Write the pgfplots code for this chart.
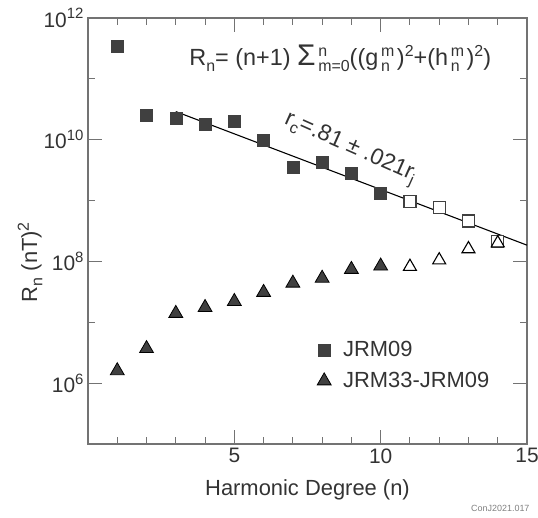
\documentclass[border=0pt]{standalone}
\usepackage{fontspec}
\setmainfont{Liberation Sans}
\usepackage{pgfplots}
\pgfplotsset{compat=1.18}
\definecolor{axgray}{HTML}{737373}
\definecolor{mk}{HTML}{404040}
\definecolor{txt}{HTML}{333333}
\newcommand{\sps}[1]{\raisebox{0.72ex}{\fontsize{16}{16}\selectfont #1}}
\newcommand{\sbs}[1]{\raisebox{-0.45ex}{\fontsize{16}{16}\selectfont #1}}
\newcommand{\tsp}[1]{\raisebox{0.75ex}{\fontsize{15}{15}\selectfont #1}}
\begin{document}
\begin{tikzpicture}
\useasboundingbox (-88bp,-74bp) rectangle (450bp,444bp);
\begin{axis}[
  at={(0,0)}, anchor=south west,
  scale only axis, width=439bp, height=426bp,
  xmin=0, xmax=15, ymode=log, log basis y=10,
  ymin=1e5, ymax=1e12,
  xtick={5,10,15}, minor xtick={1,2,3,4,6,7,8,9,11,12,13,14},
  ytick={1e6,1e8,1e10,1e12}, minor ytick={1e7,1e9,1e11},
  major tick length=14bp, minor tick length=7bp,
  tick style={axgray, line width=1pt},
  axis line style={axgray, line width=1.3pt},
  /pgf/number format/assume math mode=true,
  xticklabel style={font=\fontsize{21}{24}\selectfont, text=txt, yshift=-1bp},
  yticklabel={10\tsp{\pgfmathparse{int(round(\tick))}\pgfmathresult}},
  yticklabel style={font=\fontsize{21}{24}\selectfont, text=txt, xshift=-1bp},
  xlabel={Harmonic Degree (n)},
  xlabel style={font=\fontsize{22}{24}\selectfont, text=txt, at={(rel axis cs:0.5,0)}, anchor=center, yshift=-46bp},
  ylabel={R\sbs{n} (nT)\sps{2}},
  ylabel style={font=\fontsize{22}{24}\selectfont, text=txt, at={(rel axis cs:0,0.427)}, anchor=center, yshift=58bp},
  clip=false,
  legend style={draw=none, fill=none, at={(rel axis cs:0.515,0.25)}, anchor=north west,
    font=\fontsize{22}{24}\selectfont, text=txt, row sep=10bp,
    legend cell align=left},
  legend image code/.code={\draw[#1] plot coordinates {(0.0cm,0cm)};},
]
% JRM09 filled squares
\addplot[only marks, mark=square*, mark size=6bp, mark options={fill=mk, draw=mk}] coordinates {
 (1,3.4e11) (2,2.5e10) (3,2.25e10) (4,1.8e10) (5,2.0e10) (6,9.8e9) (7,3.5e9) (8,4.3e9) (9,2.85e9) (10,1.3e9)
};
\addlegendentry{\hspace{10bp}JRM09}
% JRM33-JRM09 filled triangles
\addplot[only marks, mark=triangle*, mark size=8bp, mark options={fill=mk, draw=black, line width=0.8pt}] coordinates {
 (1,1.6e6) (2,3.7e6) (3,1.4e7) (4,1.75e7) (5,2.2e7) (6,3.1e7) (7,4.4e7) (8,5.3e7) (9,7.4e7) (10,8.4e7)
};
\addlegendentry{\hspace{10bp}JRM33-JRM09}
% fit line
\addplot[black, line width=1.1pt, forget plot] coordinates {(3,2.9e10) (15,1.85e8)};
% open squares
\addplot[only marks, mark=square*, mark size=6bp, mark options={fill=white, draw=mk, line width=1.2pt}, forget plot] coordinates {
 (11,9.8e8) (12,7.7e8) (13,4.6e8) (14,2.1e8)
};
% open triangles
\addplot[only marks, mark=triangle*, mark size=7.5bp, mark options={fill=white, draw=black, line width=1.1pt}, forget plot] coordinates {
 (11,8.2e7) (12,1.05e8) (13,1.6e8) (14,2.0e8)
};
\node[font=\fontsize{23.5}{26}\selectfont, text=txt] at (axis cs:8.62,2.2e11)
  {R\sbs{n}= (n+1) {\fontsize{30}{30}\selectfont Σ}\rlap{\sps{\,n}}\sbs{\,m=0}((g\rlap{\sbs{\,n}}\sps{\,m\,})\sps{2}+(h\rlap{\sbs{\,n}}\sps{\,m\,})\sps{2})};
\node[font=\fontsize{23}{24}\selectfont, text=txt, rotate=-24] at (axis cs:8.95,7.0e9)
  {r\sbs{c}=.81 ± .021r\sbs{j}};
\end{axis}
\node[anchor=east, font=\fontsize{9}{10}\selectfont, text=gray] at (445bp,-64bp) {ConJ2021.017};
\end{tikzpicture}
\end{document}
